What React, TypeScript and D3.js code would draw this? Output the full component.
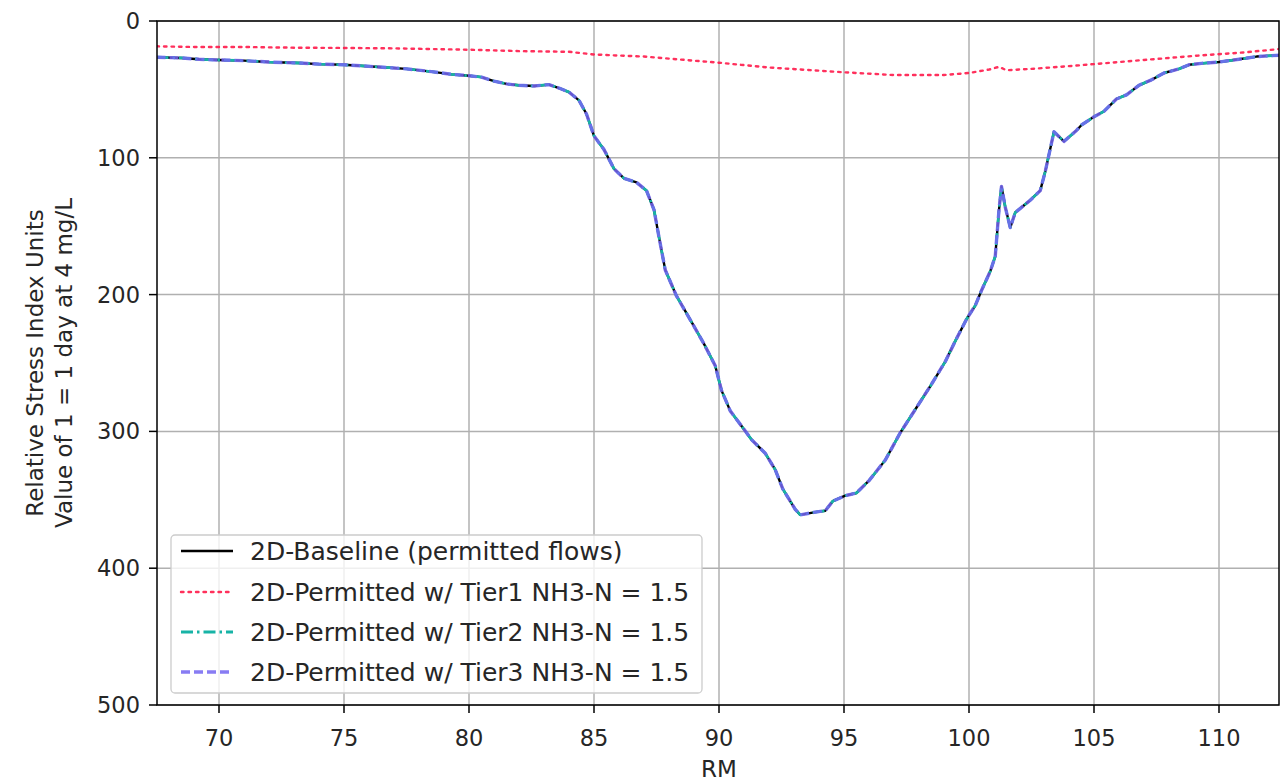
import React from "react";
import * as d3 from "d3";

const rmMain = [67.5, 68.5, 69.2, 70, 71, 72, 73.2, 74, 75, 76.4, 77.5, 78.5, 79.3, 80, 80.5, 81, 81.5, 82, 82.6, 83.2, 83.6, 84, 84.4, 84.7, 85, 85.4, 85.8, 86.2, 86.7, 87.1, 87.4, 87.6, 87.85, 88.3, 88.9, 89.4, 89.85, 90.1, 90.45, 90.9, 91.3, 91.85, 92.25, 92.55, 93.05, 93.25, 93.85, 94.25, 94.55, 95.05, 95.5, 96, 96.65, 97.25, 97.85, 98.45, 99.05, 99.45, 99.9, 100.25, 100.5, 100.85, 101.05, 101.2, 101.3, 101.45, 101.65, 101.85, 102.45, 102.85, 103.05, 103.4, 103.8, 104.3, 104.5, 105, 105.4, 105.9, 106.3, 106.8, 107.3, 107.8, 108.4, 108.8, 109.3, 110, 110.8, 111.5, 112.4];
const baselineValues = [26.5, 27, 28, 28.5, 29, 30, 30.7, 31.5, 32, 33.6, 35, 37, 39, 40, 41, 44, 46, 47, 47.5, 46.5, 49, 52, 58, 68, 84, 94, 108, 115, 118, 124, 138, 158, 182, 201, 220, 236, 252, 270, 285, 296, 306, 316, 328, 342, 357, 361, 359, 358, 351, 347, 345, 336, 321, 301, 284, 267, 249, 234, 218, 208, 197, 183, 172, 138, 121, 136, 151, 140, 131, 124, 110, 81, 88, 80, 76, 70, 66, 57, 54, 47, 43, 38, 35, 32, 31, 30, 28, 26, 25];
const tier2Values = baselineValues;
const tier3Values = baselineValues;

const rmTier1 = [67.5, 69, 71, 73, 75, 77, 80, 82, 84, 85, 87, 90, 92, 95, 97, 99, 100, 100.8, 101.2, 101.5, 102.5, 104, 105, 107, 109, 111, 112.4];
const tier1Values = [18.5, 19, 19, 19.5, 19.7, 20, 21, 22, 22.5, 24.5, 26, 30.5, 34, 37.5, 39.5, 39.5, 38, 35.5, 33.5, 36, 35, 33, 31.5, 28.5, 25.5, 23, 20.5];

const xTicks = [70, 75, 80, 85, 90, 95, 100, 105, 110];
const yTicks = [0, 100, 200, 300, 400, 500];

const seriesLabels = [
  "2D-Baseline (permitted flows)",
  "2D-Permitted w/ Tier1 NH3-N = 1.5",
  "2D-Permitted w/ Tier2 NH3-N = 1.5",
  "2D-Permitted w/ Tier3 NH3-N = 1.5",
];

const W = 1281, H = 781;
const L = 157, R = 1279, T = 21, B = 705;
const FONT = "DejaVu Sans, sans-serif";
const TICK_FS = 22.5;
const LABEL_FS = 23;
const LEG_FS = 25;
const TXT = "#262626";

const styles = [
  { color: "#000000", dash: "none", width: 2.4, opacity: 1 },
  { color: "#ff1a4a", dash: "2.5,5", width: 2.4, opacity: 0.9 },
  { color: "#17b3a6", dash: "12,4,2.5,4", width: 2.8, opacity: 1 },
  { color: "#7466f2", dash: "9,4", width: 3.4, opacity: 0.85 },
];

export default function App() {
  const x = d3.scaleLinear().domain([67.52, 112.4]).range([L, R]);
  const y = d3.scaleLinear().domain([0, 500]).range([T, B]);
  const line = d3.line<[number, number]>().x((d) => x(d[0])).y((d) => y(d[1]));
  const mk = (xs: number[], ys: number[]) => xs.map((v, i) => [v, ys[i]] as [number, number]);
  const paths = [
    line(mk(rmMain, baselineValues)),
    line(mk(rmTier1, tier1Values)),
    line(mk(rmMain, tier2Values)),
    line(mk(rmMain, tier3Values)),
  ];
  const legX = 171, legY = 535, legW = 531, legH = 158;
  const rowY = [551, 592, 632, 672];
  return (
    <svg width={W} height={H} style={{ position: "absolute", left: 0, top: 0, background: "#fff" }} fontFamily={FONT}>
      <defs>
        <clipPath id="clip"><rect x={L} y={T} width={R - L} height={B - T} /></clipPath>
      </defs>
      <rect x={0} y={0} width={W} height={H} fill="#fff" />
      {xTicks.map((t) => (
        <line key={"gx" + t} x1={x(t)} x2={x(t)} y1={T} y2={B} stroke="#b0b0b0" strokeWidth={1.5} />
      ))}
      {yTicks.map((t) => (
        <line key={"gy" + t} x1={L} x2={R} y1={y(t)} y2={y(t)} stroke="#b0b0b0" strokeWidth={1.5} />
      ))}
      <g clipPath="url(#clip)" fill="none" strokeLinejoin="round">
        {paths.map((p, i) => (
          <path key={i} d={p || ""} stroke={styles[i].color} strokeWidth={styles[i].width} strokeDasharray={styles[i].dash} opacity={styles[i].opacity} strokeLinecap={i === 1 ? "round" : "butt"} />
        ))}
      </g>
      <rect x={L} y={T} width={R - L} height={B - T} fill="none" stroke="#000" strokeWidth={1.5} />
      {xTicks.map((t) => (
        <g key={"tx" + t}>
          <line x1={x(t)} x2={x(t)} y1={B} y2={B + 8} stroke="#000" strokeWidth={1.5} />
          <text x={x(t)} y={738} textAnchor="middle" dominantBaseline="central" fontSize={TICK_FS} fill={TXT}>{t}</text>
        </g>
      ))}
      {yTicks.map((t) => (
        <g key={"ty" + t}>
          <line x1={L - 8} x2={L} y1={y(t)} y2={y(t)} stroke="#000" strokeWidth={1.5} />
          <text x={L - 17} y={y(t)} textAnchor="end" dominantBaseline="central" fontSize={TICK_FS} fill={TXT}>{t}</text>
        </g>
      ))}
      <text x={719} y={769} textAnchor="middle" dominantBaseline="central" fontSize={LABEL_FS} fill={TXT}>RM</text>
      <text transform={`translate(35, ${(T + B) / 2}) rotate(-90)`} textAnchor="middle" dominantBaseline="central" fontSize={LABEL_FS} fill={TXT}>Relative Stress Index Units</text>
      <text transform={`translate(64, ${(T + B) / 2}) rotate(-90)`} textAnchor="middle" dominantBaseline="central" fontSize={LABEL_FS} fill={TXT}>Value of 1 = 1 day at 4 mg/L</text>
      <rect x={legX} y={legY} width={legW} height={legH} rx={4} fill="#fff" fillOpacity={0.8} stroke="#cccccc" strokeWidth={1.3} />
      {seriesLabels.map((lab, i) => (
        <g key={lab}>
          <line x1={181} x2={233} y1={rowY[i]} y2={rowY[i]} stroke={styles[i].color} strokeWidth={styles[i].width} strokeDasharray={styles[i].dash} opacity={styles[i].opacity} strokeLinecap={i === 1 ? "round" : "butt"} />
          <text x={250} y={rowY[i]} dominantBaseline="central" fontSize={LEG_FS} fill={TXT}>{lab}</text>
        </g>
      ))}
    </svg>
  );
}
